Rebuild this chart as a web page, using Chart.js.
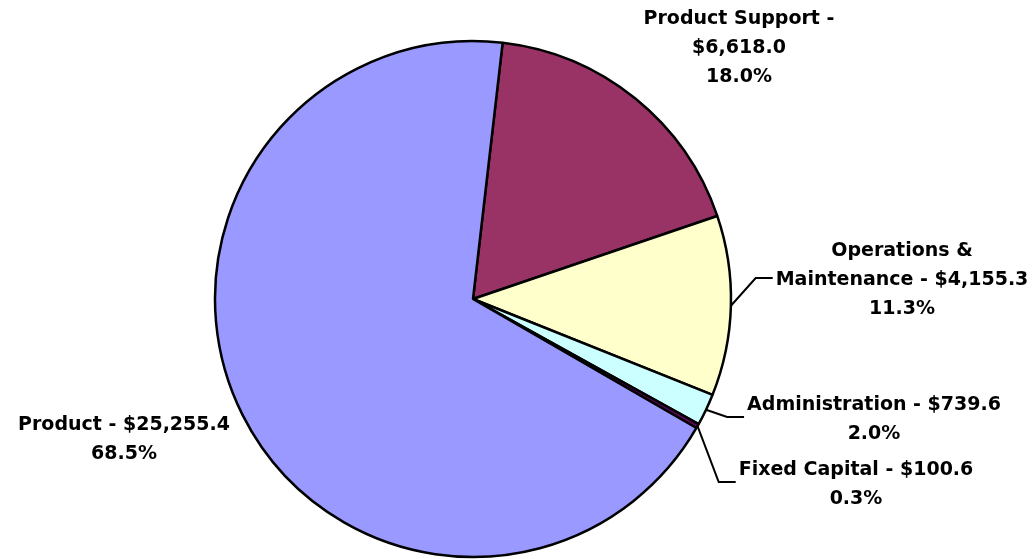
<!DOCTYPE html>
<html>
<head>
<meta charset="utf-8">
<script src="https://cdn.jsdelivr.net/npm/chart.js@4"></script>
<style>
  html, body { margin: 0; padding: 0; background: #fff; }
  #wrap { width: 1036px; height: 559px; position: relative; }
</style>
</head>
<body>
<div id="wrap"><canvas id="costChart"></canvas></div>
<script>
// cost breakdown, clockwise from the top
const categories = ['Product Support', 'Operations & Maintenance', 'Administration', 'Fixed Capital', 'Product'];
const amounts = [6618.0, 4155.3, 739.6, 100.6, 25255.4];
const sliceColors = ['#993366', '#FFFFCC', '#CCFFFF', '#660066', '#9999FF'];

// how each label is split into lines and where its block sits (offset from pie centre)
const labelLayout = [
  { dx: 266, dy: -253, leader: false, split: 'name-dash' },
  { dx: 429, dy: -21, leader: true, split: 'amp' },
  { dx: 401, dy: 118, leader: true, split: 'one' },
  { dx: 383, dy: 183, leader: true, split: 'one' },
  { dx: -349, dy: 138, leader: false, split: 'one' }
];

const total = amounts.reduce((a, b) => a + b, 0);
const money = v => '$' + v.toLocaleString('en-US', { minimumFractionDigits: 1, maximumFractionDigits: 1 });
const pct = v => (v / total * 100).toFixed(1) + '%';

function labelLines(i) {
  const name = categories[i], amt = money(amounts[i]), p = pct(amounts[i]);
  const mode = labelLayout[i].split;
  if (mode === 'name-dash') return [name + ' -', amt, p];
  if (mode === 'amp') {
    const parts = name.split('& ');
    return [parts[0] + '&', parts[1] + ' - ' + amt, p];
  }
  return [name + ' - ' + amt, p];
}

const FONT = 'bold 19px "DejaVu Sans"';
const LINE_H = 29;

const sliceLabels = {
  id: 'sliceLabels',
  afterDraw(chart) {
    const ctx = chart.ctx;
    const arcs = chart.getDatasetMeta(0).data;
    ctx.save();
    ctx.font = FONT;
    ctx.fillStyle = '#000';
    ctx.textAlign = 'center';
    ctx.textBaseline = 'alphabetic';
    arcs.forEach((arc, i) => {
      const lay = labelLayout[i];
      const lines = labelLines(i);
      const cx = arc.x + lay.dx, cy = arc.y + lay.dy;
      const top = cy - (lines.length - 1) * LINE_H / 2;
      let widest = 0;
      lines.forEach((t, k) => {
        widest = Math.max(widest, ctx.measureText(t).width);
        ctx.fillText(t, cx, top + k * LINE_H + 7);
      });
      if (lay.leader) {
        const mid = (arc.startAngle + arc.endAngle) / 2;
        const sx = arc.x + Math.cos(mid) * arc.outerRadius;
        const sy = arc.y + Math.sin(mid) * arc.outerRadius;
        const ex = cx - widest / 2 - 3;
        ctx.beginPath();
        ctx.moveTo(sx, sy);
        ctx.lineTo(ex - 17, cy);
        ctx.lineTo(ex, cy);
        ctx.lineWidth = 2;
        ctx.strokeStyle = '#000';
        ctx.stroke();
      }
    });
    ctx.restore();
  }
};

const ctx = document.getElementById('costChart').getContext('2d');

const costData = {
  labels: categories,
  datasets: [{
    data: amounts,
    backgroundColor: sliceColors,
    borderColor: '#000',
    borderWidth: 2.5,
    hoverOffset: 0,
    radius: 258
  }]
};

const costConfig = {
  type: 'pie',
  data: costData,
  options: {
    responsive: true,
    maintainAspectRatio: false,
    animation: false,
    rotation: 6.6,
    layout: { padding: { left: 0, right: 90, top: 39, bottom: 0 } },
    plugins: {
      legend: { display: false },
      tooltip: { enabled: false }
    }
  },
  plugins: [sliceLabels]
};

let chart = new Chart(ctx, costConfig);
</script>
</body>
</html>
